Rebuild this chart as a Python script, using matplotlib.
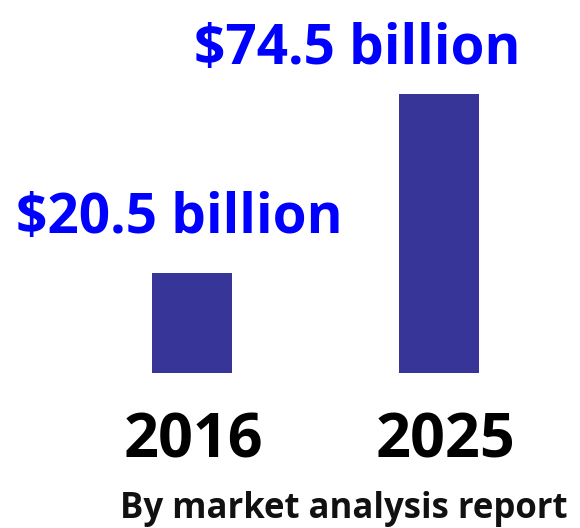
import matplotlib.pyplot as plt

years = ["2016", "2025"]
market_size = [20.5, 74.5]
value_labels = ["$20.5 billion", "$74.5 billion"]
source_note = "By market analysis report"

plt.rcParams['font.family'] = ['Open Sans', 'DejaVu Sans']

fig = plt.figure(figsize=(5.8, 5.28), dpi=100)
ax = fig.add_axes([0, 0, 1, 1])

# bars sit on a floor a little below zero
base = -9.7
x = range(len(years))
ax.bar(x, [v - base for v in market_size], bottom=base, width=0.324,
       color='#373598')

ax.set_xlim(-0.777, 1.571)
ax.set_ylim(-56.4, 102.9)
ax.axis('off')

# label offsets in pixels from the top / bottom of each bar
label_offsets = [(-12.5, 40), (-81.5, 30)]
year_offsets = [(1.5, -84), (7, -84)]

for i, v in enumerate(market_size):
    ax.annotate(value_labels[i], xy=(i, v), xytext=label_offsets[i],
                textcoords='offset pixels', ha='center', va='baseline',
                fontsize=39.5, fontweight='bold', color='#0000ff')
    ax.annotate(years[i], xy=(i, base), xytext=year_offsets[i],
                textcoords='offset pixels', ha='center', va='baseline',
                fontsize=44, fontweight='bold', color='black')

fig.text(0.593, 0.018, source_note, ha='center', va='baseline',
         fontsize=25, fontweight='bold', color='#111111')

fig.savefig("out.png", dpi=100, facecolor='white')
